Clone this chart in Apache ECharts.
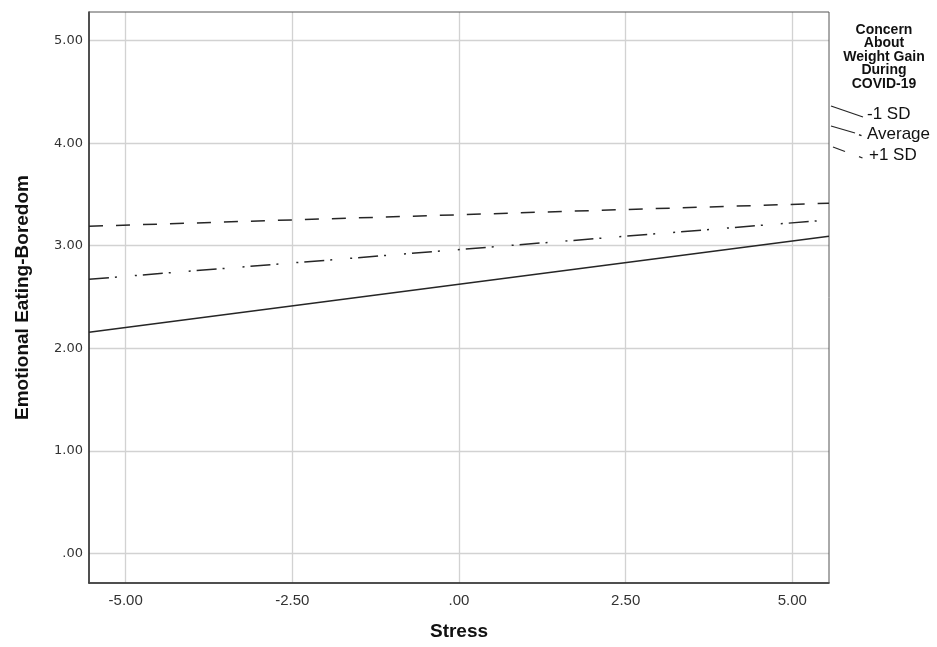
<!DOCTYPE html>
<html>
<head>
<meta charset="utf-8">
<script src="https://cdn.jsdelivr.net/npm/echarts@6/dist/echarts.min.js"></script>
<style>
html,body{margin:0;padding:0;background:#fff;}
#chart{width:937px;height:647px;}
</style>
</head>
<body>
<div id="chart"></div>
<script>
// ---- data ----
var stress = [-5.55, 5.55];
var minus1SD = [2.156, 3.093];
var average = [2.673, 3.252];
var plus1SD = [3.19, 3.415];
var seriesNames = ['-1 SD', 'Average', '+1 SD'];
var xTicks = [-5, -2.5, 0, 2.5, 5];
var yTicks = [0, 1, 2, 3, 4, 5];
var legendTitle = 'Concern\nAbout\nWeight Gain\nDuring\nCOVID-19';

function pairs(xs, ys) { return xs.map(function (x, i) { return [x, ys[i]]; }); }
function fmt(v) {
  if (v === 0) return '.00';
  return v.toFixed(2);
}

var lineColor = '#262626';
var gridColor = '#d2d2d2';

var chart = echarts.init(document.getElementById('chart'), null, {renderer: 'canvas'});
chart.setOption({
  backgroundColor: '#fff',
  animation: false,
  grid: [
    {left: 89, right: 108, top: 12, bottom: 64, show: true, borderColor: '#555', borderWidth: 1, backgroundColor: 'transparent', z: 3},
    {left: 125.7, right: 144.7, top: 12, bottom: 64},
    {left: 89, right: 108, top: 40.7, bottom: 93.7}
  ],
  xAxis: [
    {type: 'value', gridIndex: 0, min: -5.55, max: 5.55,
     axisLine: {show: true, onZero: false, lineStyle: {color: '#111', width: 1.5}},
     axisTick: {show: false}, axisLabel: {show: false}, splitLine: {show: false},
     name: 'Stress', nameLocation: 'middle', nameGap: 39,
     nameTextStyle: {fontFamily: 'Liberation Sans', fontWeight: 'bold', fontSize: 19, color: '#111'}},
    {type: 'value', gridIndex: 1, min: xTicks[0], max: xTicks[xTicks.length - 1], interval: 2.5,
     axisLine: {show: false}, axisTick: {show: false},
     axisLabel: {show: true, margin: 10, formatter: fmt, fontFamily: 'Liberation Sans', fontSize: 15, color: '#333'},
     splitLine: {show: true, lineStyle: {color: gridColor, width: 1.3}}},
    {type: 'value', gridIndex: 2, show: false, min: 0, max: 1}
  ],
  yAxis: [
    {type: 'value', gridIndex: 0, min: -0.29, max: 5.28,
     axisLine: {show: true, onZero: false, lineStyle: {color: '#111', width: 1.5}},
     axisTick: {show: false}, axisLabel: {show: false}, splitLine: {show: false},
     name: 'Emotional Eating-Boredom', nameLocation: 'middle', nameGap: 57,
     nameTextStyle: {fontFamily: 'Liberation Sans', fontWeight: 'bold', fontSize: 19, color: '#111'}},
    {type: 'value', gridIndex: 1, show: false, min: 0, max: 1},
    {type: 'value', gridIndex: 2, min: yTicks[0], max: yTicks[yTicks.length - 1], interval: 1,
     axisLine: {show: false}, axisTick: {show: false},
     axisLabel: {show: true, margin: 6, formatter: fmt, fontFamily: 'DejaVu Sans', fontSize: 13, color: '#333'},
     splitLine: {show: true, lineStyle: {color: gridColor, width: 1.3}}}
  ],
  series: [
    {name: seriesNames[0], type: 'line', xAxisIndex: 0, yAxisIndex: 0, data: pairs(stress, minus1SD),
     showSymbol: false, symbol: 'none', z: 5,
     lineStyle: {color: lineColor, width: 1.5, type: 'solid'}},
    {name: seriesNames[1], type: 'line', xAxisIndex: 0, yAxisIndex: 0, data: pairs(stress, average),
     showSymbol: false, symbol: 'none', z: 5,
     lineStyle: {color: lineColor, width: 1.5, type: [20, 6, 2, 18, 2, 6]}},
    {name: seriesNames[2], type: 'line', xAxisIndex: 0, yAxisIndex: 0, data: pairs(stress, plus1SD),
     showSymbol: false, symbol: 'none', z: 5,
     lineStyle: {color: lineColor, width: 1.5, type: [14, 13]}}
  ],
  graphic: [
    {type: 'text', x: 884, y: 23, style: {text: legendTitle, align: 'center',
      font: 'bold 14px "Liberation Sans"', lineHeight: 13.5, fill: '#111'}},
    {type: 'line', shape: {x1: 831, y1: 106, x2: 863, y2: 117}, style: {stroke: lineColor, lineWidth: 1.3}},
    {type: 'line', shape: {x1: 831, y1: 126, x2: 855, y2: 133}, style: {stroke: lineColor, lineWidth: 1.3}},
    {type: 'line', shape: {x1: 859, y1: 134.8, x2: 861.5, y2: 135.6}, style: {stroke: lineColor, lineWidth: 1.5}},
    {type: 'line', shape: {x1: 833, y1: 147, x2: 845, y2: 151.5}, style: {stroke: lineColor, lineWidth: 1.3}},
    {type: 'line', shape: {x1: 859, y1: 156.6, x2: 862.5, y2: 158}, style: {stroke: lineColor, lineWidth: 1.3}},
    {type: 'text', x: 867, y: 114, style: {text: seriesNames[0], font: '17px "Liberation Sans"', fill: '#111', verticalAlign: 'middle'}},
    {type: 'text', x: 867, y: 134, style: {text: seriesNames[1], font: '17px "Liberation Sans"', fill: '#111', verticalAlign: 'middle'}},
    {type: 'text', x: 869, y: 155, style: {text: seriesNames[2], font: '17px "Liberation Sans"', fill: '#111', verticalAlign: 'middle'}}
  ]
});
</script>
</body>
</html>
